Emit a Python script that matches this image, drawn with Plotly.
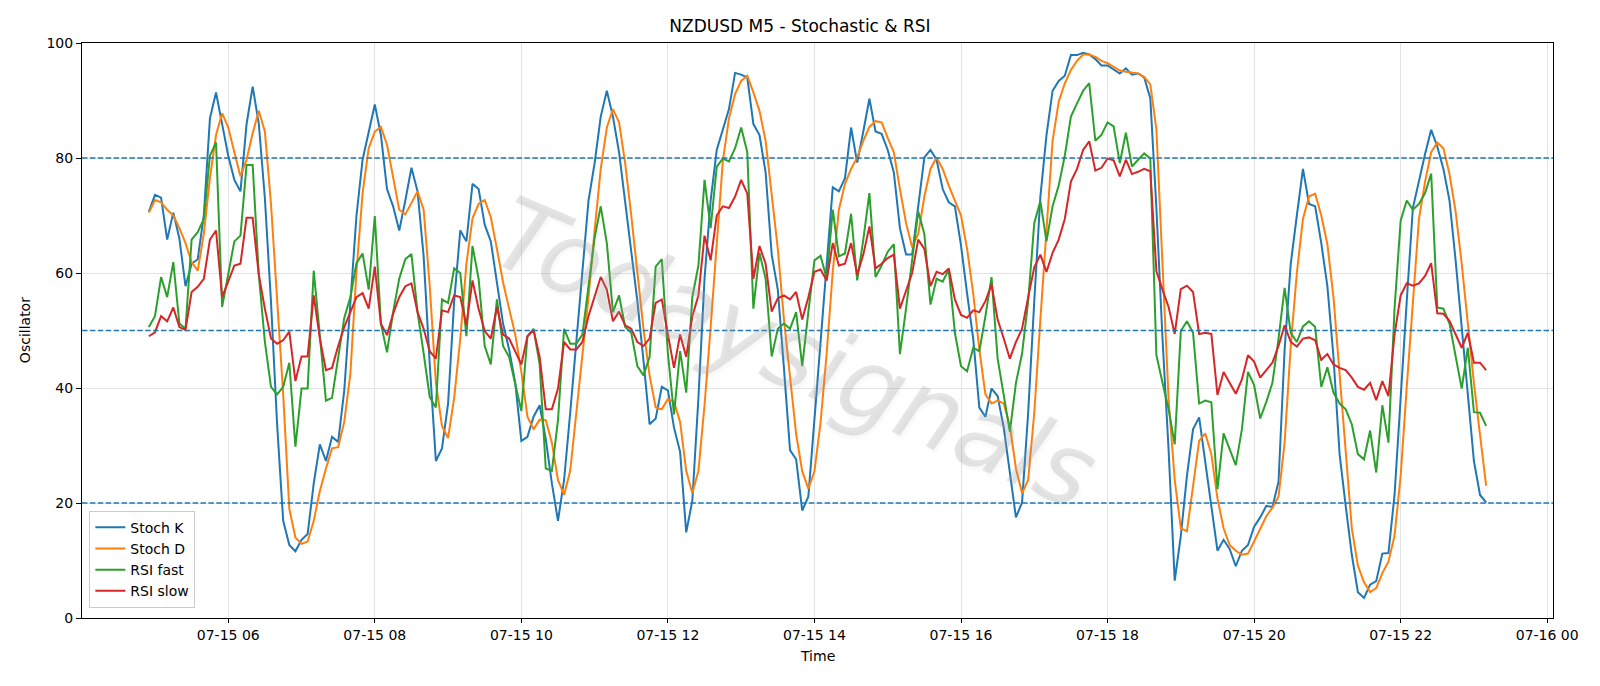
import pandas as pd
import plotly.graph_objects as go

start_time = "2024-07-15 04:55"
n_points = 220

stoch_k = [
    70.7, 73.6, 73.1, 65.8, 70.5, 66.0, 57.7, 61.6, 62.4, 70.0,
    86.9, 91.4, 85.9, 80.4, 76.2, 74.2, 85.9, 92.4, 86.0, 73.0,
    55.0, 33.7, 16.9, 12.7, 11.6, 13.6, 14.6, 23.4, 30.2, 27.3,
    31.5, 30.6, 39.6, 54.5, 70.0, 79.7, 84.3, 89.3, 84.0, 74.6,
    71.6, 67.4, 72.6, 78.3, 74.2, 62.9, 44.1, 27.3, 29.5, 37.3,
    55.1, 67.4, 65.5, 75.5, 74.6, 68.4, 65.5, 58.4, 51.2, 46.7,
    40.9, 30.8, 31.5, 35.0, 37.0, 31.1, 23.4, 16.9, 24.0, 35.7,
    48.0, 60.3, 72.6, 79.1, 87.2, 91.7, 87.2, 81.0, 72.6, 64.2,
    55.1, 44.8, 33.7, 34.7, 40.2, 39.6, 33.1, 28.9, 14.9, 20.4,
    38.3, 59.0, 72.6, 81.4, 85.1, 88.5, 94.8, 94.5, 94.0, 85.9,
    84.0, 77.5, 63.2, 57.1, 43.5, 29.2, 27.6, 18.7, 21.1, 34.4,
    47.0, 60.0, 74.9, 74.2, 76.5, 85.3, 79.2, 84.6, 90.3, 84.6,
    84.2, 81.4, 77.5, 67.8, 63.2, 63.2, 71.3, 80.1, 81.4, 79.7,
    74.6, 72.3, 71.6, 64.8, 56.4, 48.6, 36.6, 35.0, 39.9, 38.6,
    33.1, 25.6, 17.5, 20.1, 35.7, 55.1, 73.3, 84.0, 91.7, 93.4,
    94.3, 97.9, 97.9, 98.3, 98.0, 97.2, 96.1, 96.1, 95.4, 94.7,
    95.6, 94.5, 94.7, 94.0, 90.4, 71.3, 48.6, 29.2, 6.5, 14.3,
    24.7, 32.8, 34.9, 27.3, 19.8, 11.7, 13.6, 12.0, 9.0, 11.7,
    12.7, 15.9, 17.5, 19.5, 19.3, 23.7, 46.7, 61.6, 70.0, 78.1,
    72.0, 71.6, 65.2, 57.7, 45.4, 28.5, 19.5, 11.0, 4.5, 3.5,
    5.8, 6.4, 11.2, 11.3, 21.4, 38.9, 55.1, 71.3, 76.2, 80.7,
    84.9, 82.0, 78.1, 72.6, 62.2, 50.6, 40.2, 27.3, 21.4, 20.1,
]

stoch_d = [
    70.5, 72.7, 72.3, 71.0, 70.0, 67.8, 65.2, 61.9, 60.4, 66.8,
    76.5, 84.0, 87.8, 85.3, 81.0, 76.8, 79.7, 84.3, 88.2, 84.6,
    72.0, 55.1, 38.9, 19.0, 14.0, 12.9, 13.3, 16.9, 22.1, 26.0,
    29.5, 29.7, 34.1, 42.5, 60.3, 73.9, 81.7, 84.6, 85.4, 82.3,
    76.5, 71.0, 70.2, 72.3, 74.2, 71.0, 57.7, 40.9, 33.4, 31.3,
    38.3, 48.6, 61.6, 69.5, 72.0, 72.7, 69.7, 64.2, 58.4, 53.8,
    49.3, 42.8, 35.0, 32.8, 34.5, 34.4, 30.5, 24.0, 21.4, 25.6,
    35.7, 45.4, 55.8, 67.4, 78.1, 85.3, 88.5, 86.2, 79.1, 70.0,
    60.3, 50.3, 42.2, 36.6, 36.3, 38.1, 37.6, 34.1, 25.6, 21.7,
    25.6, 37.0, 50.6, 65.5, 79.5, 86.9, 91.1, 93.4, 94.3, 91.4,
    88.2, 83.0, 73.9, 64.2, 52.0, 42.0, 32.0, 25.5, 22.5, 25.5,
    34.0, 46.0, 60.3, 71.0, 75.5, 78.1, 80.1, 83.0, 85.4, 86.4,
    86.2, 83.5, 81.0, 74.6, 68.7, 64.5, 66.8, 73.3, 78.1, 80.1,
    78.1, 75.2, 72.6, 70.0, 64.2, 56.4, 46.7, 38.9, 37.3, 37.8,
    37.3, 33.4, 26.0, 21.7, 24.0, 35.7, 51.9, 67.4, 83.0, 89.8,
    93.0, 95.3, 96.9, 98.0, 98.0, 97.6, 96.9, 96.5, 95.8, 95.2,
    95.0, 94.8, 94.7, 94.1, 92.8, 85.0, 60.0, 38.0, 24.0, 15.6,
    15.1, 23.0, 30.8, 32.1, 28.5, 20.8, 15.6, 12.7, 11.7, 11.0,
    11.2, 13.3, 15.6, 17.7, 19.2, 21.1, 30.5, 47.3, 60.0, 69.4,
    73.3, 73.8, 70.0, 65.0, 55.8, 42.2, 27.6, 15.6, 9.1, 6.2,
    4.5, 5.2, 7.8, 9.8, 14.3, 24.7, 40.2, 55.1, 69.4, 75.9,
    81.0, 82.7, 81.7, 77.2, 70.7, 61.6, 51.2, 40.9, 31.8, 23.0,
]

rsi_fast = [
    50.6, 52.5, 59.3, 55.8, 61.9, 51.2, 50.3, 65.8, 67.1, 69.4,
    80.4, 82.7, 54.1, 59.7, 65.5, 66.5, 78.8, 78.8, 59.7, 48.0,
    40.2, 38.9, 40.2, 44.4, 29.8, 39.9, 39.9, 60.4, 49.3, 37.8,
    38.3, 45.4, 52.2, 55.8, 61.7, 63.4, 57.1, 69.9, 51.2, 46.2,
    53.2, 59.0, 62.4, 63.3, 53.2, 46.0, 38.4, 36.6, 55.4, 54.8,
    60.8, 60.0, 49.0, 64.7, 59.0, 47.3, 44.1, 55.4, 47.3, 45.4,
    40.5, 36.0, 49.0, 50.3, 44.1, 26.0, 25.6, 34.4, 50.3, 47.7,
    47.7, 49.3, 57.7, 66.1, 71.6, 65.2, 53.2, 56.1, 50.6, 49.6,
    43.8, 42.2, 45.4, 61.1, 62.4, 46.0, 35.4, 46.4, 39.2, 55.8,
    61.3, 76.2, 67.8, 78.5, 79.9, 79.4, 81.7, 85.3, 81.0, 53.8,
    63.5, 59.0, 45.5, 50.3, 51.2, 50.3, 53.2, 43.8, 53.2, 62.2,
    63.0, 59.0, 71.0, 62.9, 63.4, 70.3, 58.7, 65.8, 73.9, 59.3,
    61.3, 63.7, 65.0, 45.9, 53.8, 61.9, 70.7, 66.8, 54.5, 59.0,
    58.5, 60.6, 49.6, 43.8, 42.9, 47.0, 46.4, 52.5, 59.3, 45.1,
    38.9, 32.4, 40.9, 46.0, 55.1, 68.7, 72.5, 65.5, 71.6, 75.2,
    80.4, 87.2, 89.5, 91.7, 93.0, 83.0, 84.0, 86.2, 85.5, 79.1,
    84.4, 78.5, 79.7, 80.8, 79.9, 45.7, 40.9, 36.3, 30.2, 49.9,
    51.6, 49.6, 37.3, 37.8, 37.5, 22.4, 32.1, 29.2, 26.6, 32.8,
    42.8, 40.5, 34.7, 37.6, 40.9, 48.6, 57.4, 49.6, 48.0, 50.7,
    51.6, 50.6, 40.2, 43.6, 39.2, 37.3, 36.3, 33.7, 28.5, 27.6,
    32.6, 25.3, 37.0, 30.5, 53.8, 69.1, 72.6, 71.0, 72.0, 73.9,
    77.3, 54.0, 53.8, 51.2, 45.4, 39.9, 47.0, 35.8, 35.7, 33.4,
]

rsi_slow = [
    49.0, 49.7, 52.5, 51.6, 54.0, 50.6, 50.1, 56.7, 57.6, 59.0,
    65.8, 67.4, 55.8, 58.4, 61.3, 61.6, 69.6, 69.6, 59.7, 53.8,
    48.6, 47.7, 48.3, 49.8, 41.2, 45.5, 45.5, 56.1, 48.6, 43.1,
    43.5, 47.3, 50.6, 53.2, 55.8, 56.5, 53.8, 61.1, 51.2, 49.2,
    52.9, 55.8, 57.7, 58.2, 53.2, 50.3, 46.4, 45.1, 53.5, 53.2,
    56.1, 55.8, 50.9, 58.7, 53.8, 49.9, 48.6, 54.1, 49.3, 48.6,
    46.4, 44.1, 49.0, 50.1, 45.4, 36.3, 36.3, 39.9, 48.0, 46.7,
    46.7, 48.0, 52.5, 55.8, 59.3, 57.1, 51.6, 53.3, 50.9, 50.3,
    48.0, 47.3, 48.6, 54.8, 55.4, 49.3, 43.5, 49.3, 45.4, 52.5,
    56.1, 66.5, 62.2, 70.0, 71.6, 71.3, 73.3, 76.2, 73.8, 59.0,
    64.7, 61.6, 53.3, 55.6, 56.1, 55.4, 56.7, 51.9, 55.8, 60.2,
    60.6, 58.7, 65.2, 61.3, 61.6, 65.2, 59.7, 63.2, 68.1, 60.8,
    61.6, 62.6, 63.2, 53.8, 57.1, 60.0, 65.8, 64.2, 57.7, 60.2,
    59.8, 60.8, 55.4, 52.7, 52.2, 53.5, 53.2, 55.1, 58.0, 51.9,
    48.6, 45.1, 48.0, 50.3, 55.8, 61.0, 63.2, 60.2, 63.5, 65.8,
    69.4, 75.9, 78.1, 81.4, 82.9, 77.8, 78.3, 79.9, 79.6, 76.8,
    79.7, 77.2, 77.6, 78.1, 77.7, 60.3, 57.1, 54.1, 49.4, 57.2,
    57.8, 56.7, 49.4, 49.6, 49.4, 38.8, 42.8, 40.9, 39.0, 41.5,
    45.7, 44.6, 41.8, 43.1, 44.4, 47.3, 50.9, 48.0, 47.2, 48.6,
    48.8, 48.3, 44.9, 45.9, 44.1, 43.5, 43.1, 41.8, 40.2, 39.7,
    40.9, 37.9, 41.2, 38.6, 49.3, 56.1, 58.2, 57.8, 58.2, 59.5,
    61.7, 53.0, 52.9, 51.7, 49.3, 47.0, 49.6, 44.4, 44.4, 43.1,
]

levels = [20, 50, 80]
tick_times = ["2024-07-15 06:00", "2024-07-15 08:00", "2024-07-15 10:00", "2024-07-15 12:00",
              "2024-07-15 14:00", "2024-07-15 16:00", "2024-07-15 18:00", "2024-07-15 20:00",
              "2024-07-15 22:00", "2024-07-16 00:00"]
tick_labels = ["07-15 06", "07-15 08", "07-15 10", "07-15 12", "07-15 14",
               "07-15 16", "07-15 18", "07-15 20", "07-15 22", "07-16 00"]

times = pd.date_range(start_time, periods=n_points, freq="5min")
span = times[-1] - times[0]
x_lo = times[0] - span * 0.05
x_hi = times[-1] + span * 0.05

FONT = "DejaVu Sans"
series = [
    ("Stoch K", stoch_k, "#1f77b4"),
    ("Stoch D", stoch_d, "#ff7f0e"),
    ("RSI fast", rsi_fast, "#2ca02c"),
    ("RSI slow", rsi_slow, "#d62728"),
]

fig = go.Figure()
for name, vals, col in series:
    fig.add_trace(go.Scatter(x=times, y=vals, mode="lines", name=name,
                             line=dict(color=col, width=2)))

for lv in levels:
    fig.add_shape(type="line", xref="paper", x0=0, x1=1, yref="y", y0=lv, y1=lv,
                  line=dict(color="#1f77b4", width=1.5, dash="5.5px,2.4px"), layer="above")

fig.add_annotation(text="Todaysignals", xref="paper", yref="paper", x=0.485, y=0.46,
                   showarrow=False, textangle=23,
                   font=dict(family=FONT, size=100, color="rgba(160,160,160,0.28)",
                             style="italic", weight=300,
                             shadow="3px 3px 3px rgba(0,0,0,0.10)"))

fig.add_annotation(text="Time", xref="paper", yref="paper", x=0.5, y=-0.066,
                   yanchor="middle", showarrow=False, font=dict(family=FONT, size=14, color="black"))
fig.add_annotation(text="Oscillator", xref="paper", yref="paper", x=-0.039, y=0.5,
                   xanchor="center", yanchor="middle", textangle=-90, showarrow=False,
                   font=dict(family=FONT, size=14, color="black"))

fig.update_layout(
    width=1600, height=686,
    margin=dict(l=82, r=47, t=43, b=68),
    paper_bgcolor="white", plot_bgcolor="white",
    font=dict(family=FONT, size=14, color="black"),
    title=dict(text="NZDUSD M5 - Stochastic & RSI", x=0.5, xanchor="center",
               y=0.962, yanchor="middle", yref="container",
               font=dict(family=FONT, size=17, color="black")),
    showlegend=True,
    legend=dict(x=0.005, y=0.018, xanchor="left", yanchor="bottom",
                bgcolor="rgba(255,255,255,0.8)", bordercolor="#cccccc", borderwidth=1,
                font=dict(family=FONT, size=14), tracegroupgap=0),
    xaxis=dict(range=[x_lo, x_hi], tickvals=pd.to_datetime(tick_times), ticktext=tick_labels,
               showgrid=True, gridcolor="#e3e3e3", gridwidth=1,
               showline=True, linecolor="black", linewidth=1, mirror=True,
               ticks="outside", ticklen=4, tickcolor="black", zeroline=False),
    yaxis=dict(range=[0, 100], tickvals=[0, 20, 40, 60, 80, 100],
               showgrid=True, gridcolor="#e3e3e3", gridwidth=1,
               showline=True, linecolor="black", linewidth=1, mirror=True,
               ticks="outside", ticklen=5, tickcolor="black", zeroline=False),
)

fig.write_html("out.html")
